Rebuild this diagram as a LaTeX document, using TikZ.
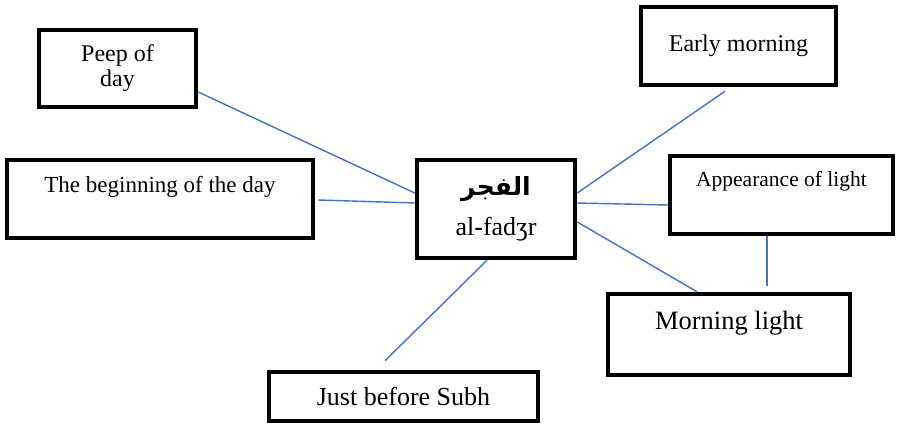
\documentclass[tikz,border=0pt]{standalone}
\usepackage{fontspec}
\setmainfont{Liberation Serif}
\newfontfamily\arabicfont[Script=Arabic]{DejaVu Sans}
\TeXXeTstate=1
\definecolor{linkblue}{RGB}{68,114,196}

\begin{document}
\begin{tikzpicture}[x=1pt, y=-1pt,
  box/.style={draw, line width=4.5pt, inner sep=0pt, align=center},
  link/.style={linkblue, line width=1.4pt}]

\useasboundingbox (0,0) rectangle (898,427);

\node[box, minimum width=157pt, minimum height=77pt, font=\fontsize{24}{25}\selectfont] (peep) at (117.5,68.5) {Peep of\\day};
\node[box, minimum width=306pt, minimum height=78pt, font=\fontsize{23}{27}\selectfont, text height=16pt, text depth=28pt] (begin) at (160,199) {The beginning of the day};
\node[box, minimum width=158pt, minimum height=98pt, font=\fontsize{26}{40}\selectfont] (fajr) at (496,209) {{\arabicfont\bfseries\fontsize{25}{28}\selectfont\beginR الفجر\endR}\\al-fadʒr};
\node[box, minimum width=195pt, minimum height=78pt, font=\fontsize{24}{28}\selectfont] (early) at (738.5,46) {Early morning};
\node[box, minimum width=223pt, minimum height=78pt, font=\fontsize{21.5}{25}\selectfont, text height=15pt, text depth=31pt] (appear) at (781.5,195) {Appearance of light};
\node[box, minimum width=242pt, minimum height=81pt, font=\fontsize{26.5}{30}\selectfont, text height=18pt, text depth=27pt] (mlight) at (729,334.5) {Morning light};
\node[box, minimum width=269pt, minimum height=49pt, font=\fontsize{26}{30}\selectfont] (subh) at (403.5,396.5) {Just before Subh};

\draw[link] ([yshift=-23.5pt]peep.east) -- ([yshift=16pt]fajr.west);
\draw[link] ([xshift=3pt,yshift=-1pt]begin.east) -- ([yshift=6pt]fajr.west);
\draw[link] ([xshift=-13.5pt,yshift=-4pt]early.south) -- ([yshift=16pt]fajr.east);
\draw[link] ([yshift=6pt]fajr.east) -- ([yshift=-10pt]appear.west);
\draw[link] ([yshift=-13pt]fajr.east) -- ([xshift=-32pt]mlight.north);
\draw[link] ([xshift=-14.5pt]appear.south) -- ([xshift=38pt,yshift=6pt]mlight.north);
\draw[link] ([xshift=-9pt]fajr.south) -- ([xshift=-18.5pt,yshift=9pt]subh.north);

\end{tikzpicture}
\end{document}
